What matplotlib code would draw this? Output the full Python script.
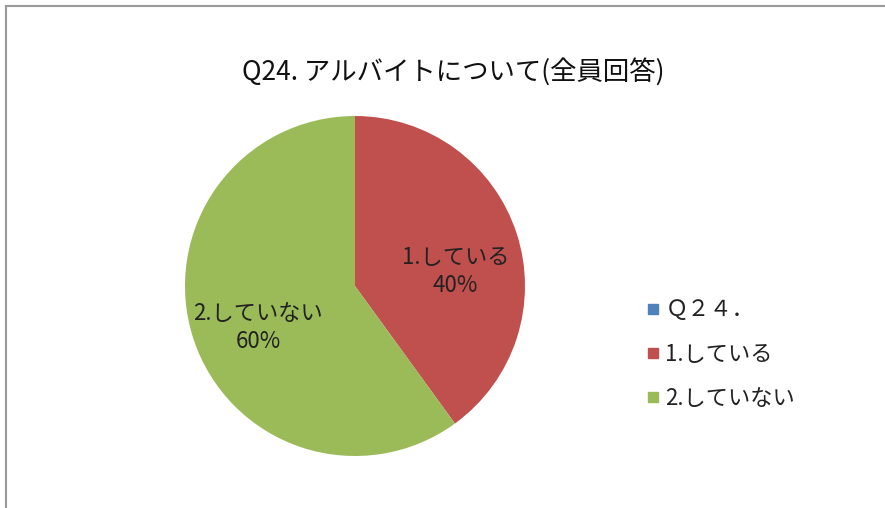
import numpy as np
import matplotlib.pyplot as plt
from matplotlib.lines import Line2D

plt.rcParams['font.family'] = ['Noto Sans CJK JP', 'DejaVu Sans']

title = "Q24. アルバイトについて(全員回答)"
categories = ["Ｑ２４．", "1.している", "2.していない"]
values = [0, 40, 60]
colors = ["#4F81BD", "#C0504D", "#9BBB59"]

fig = plt.figure(figsize=(8.85, 5.08), dpi=100)

# pie axes, square in pixels
ax = fig.add_axes([185 / 885, 52 / 508, 340 / 885, 340 / 508])
wedges, _ = ax.pie(values, colors=colors, startangle=90, counterclock=False,
                   radius=1.0, wedgeprops=dict(linewidth=0))
ax.set_xlim(-1, 1)
ax.set_ylim(-1, 1)
ax.set_aspect('equal')
ax.axis('off')

# slice labels at the middle of each wedge
total = sum(values)
offsets = {1: (0.02, -0.1), 2: (0.0, -0.06)}
for i, w in enumerate(wedges):
    if values[i] == 0:
        continue
    mid = np.deg2rad((w.theta1 + w.theta2) / 2)
    dx, dy = offsets.get(i, (0, 0))
    x = 0.6 * np.cos(mid) + dx
    y = 0.6 * np.sin(mid) + dy
    pct = round(values[i] / total * 100)
    ax.text(x, y, f"{categories[i]}\n{pct}%", ha='center', va='center',
            fontsize=16, color='#222222', linespacing=1.3)

fig.text(0.512, 0.858, title, ha='center', va='center', fontsize=19, color='#111111')

# legend
handles = [Line2D([], [], marker='s', linestyle='none', markersize=7,
                  markerfacecolor=c, markeredgecolor=c) for c in colors]
fig.legend(handles, categories, loc='center left', bbox_to_anchor=(0.703, 0.303),
           frameon=False, fontsize=16, handletextpad=0.05, labelspacing=0.95,
           handlelength=1.0, labelcolor='#222222')

# outer frame lines
fig.add_artist(Line2D([6 / 885, 1], [1 - 6 / 508, 1 - 6 / 508], color='#9a9a9a', lw=1.5))
fig.add_artist(Line2D([6 / 885, 6 / 885], [0, 1 - 6 / 508], color='#9a9a9a', lw=1.5))

fig.savefig('out.png', dpi=100, facecolor='white')
